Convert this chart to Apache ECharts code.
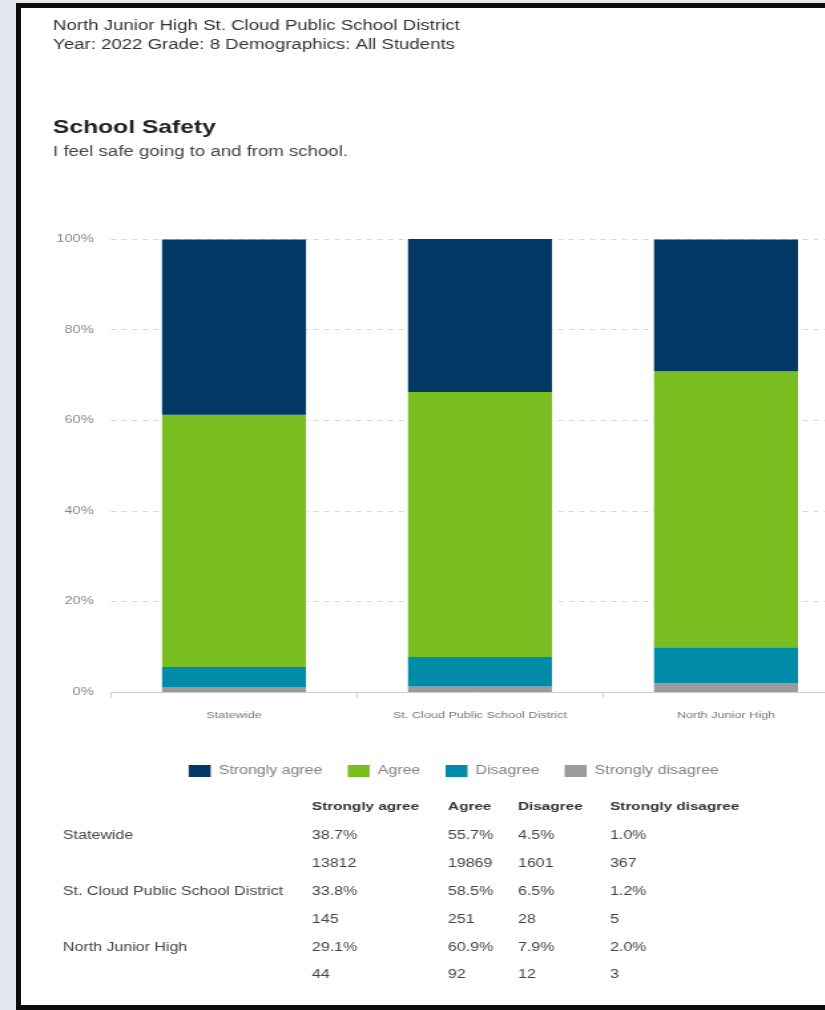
<!DOCTYPE html>
<html>
<head>
<meta charset="utf-8">
<script src="https://cdn.jsdelivr.net/npm/echarts@6/dist/echarts.min.js"></script>
<style>
  html, body { margin: 0; padding: 0; background: #e3e8ee; width: 825px; height: 1010px; overflow: hidden; position: relative; }
  #card { position: absolute; left: 16px; top: 3px; width: 860px; height: 1007px; box-sizing: border-box;
          border: 5px solid #0d0d0d; background: #fff; }
  /* the reference image is horizontally stretched; reproduce that stretch */
  #chart { position: absolute; left: 0; top: 0; width: 700px; height: 1010px;
           transform: scaleX(1.33); transform-origin: 0 0; }
</style>
</head>
<body>
<div id="card"></div>
<div id="chart"></div>
<script>
// ---- data ----
const headerLines = ["North Junior High St. Cloud Public School District", "Year: 2022 Grade: 8 Demographics: All Students"];
const chartTitle = "School Safety";
const chartSubtitle = "I feel safe going to and from school.";
const categories = ["Statewide", "St. Cloud Public School District", "North Junior High"];
const responses = ["Strongly agree", "Agree", "Disagree", "Strongly disagree"];
const stronglyAgree = [38.7, 33.8, 29.1];
const agree = [55.7, 58.5, 60.9];
const disagree = [4.5, 6.5, 7.9];
const stronglyDisagree = [1.0, 1.2, 2.0];
const countsStronglyAgree = [13812, 145, 44];
const countsAgree = [19869, 251, 92];
const countsDisagree = [1601, 28, 12];
const countsStronglyDisagree = [367, 5, 3];

const colors = {
  "Strongly agree": "#023864",
  "Agree": "#78be20",
  "Disagree": "#008ba8",
  "Strongly disagree": "#9a9b9d"
};

const S = 1.33; // horizontal stretch of the page
const pctBy = [stronglyAgree, agree, disagree, stronglyDisagree];
const cntBy = [countsStronglyAgree, countsAgree, countsDisagree, countsStronglyDisagree];

// stacking bottom -> top
const stackOrder = [3, 2, 1, 0];
const series = stackOrder.map(i => ({
  name: responses[i],
  type: 'bar',
  stack: 'total',
  data: pctBy[i],
  barWidth: 144 / S,
  itemStyle: { color: colors[responses[i]] },
  emphasis: { disabled: true }
}));

const FONT = "'Liberation Sans', Arial, sans-serif";
const graphics = [];
headerLines.forEach((t, k) => graphics.push({
  type: 'text', left: 53 / S, top: 19 + k * 19,
  style: { text: t, font: '14px ' + FONT, fill: '#333' }
}));
graphics.push({ type: 'text', left: 53 / S, top: 118, style: { text: chartTitle, font: 'bold 18.5px ' + FONT, fill: '#222' } });
graphics.push({ type: 'text', left: 53 / S, top: 145, style: { text: chartSubtitle, font: '14px ' + FONT, fill: '#444' } });

// table
const colX = [312, 448, 518, 610].map(v => v / S);
const headerY = 801;
const firstRowY = 830;
const rowH = 27.8;
responses.forEach((r, j) => graphics.push({
  type: 'text', left: colX[j], top: headerY,
  style: { text: r, font: 'bold 11.5px ' + FONT, fill: '#333' }
}));
categories.forEach((c, i) => {
  const y1 = firstRowY + rowH * (2 * i);
  const y2 = y1 + rowH;
  graphics.push({ type: 'text', left: 63 / S, top: y1, style: { text: c, font: '12px ' + FONT, fill: '#444' } });
  responses.forEach((r, j) => {
    graphics.push({ type: 'text', left: colX[j], top: y1, style: { text: pctBy[j][i].toFixed(1) + '%', font: '12px ' + FONT, fill: '#444' } });
    graphics.push({ type: 'text', left: colX[j], top: y2, style: { text: String(cntBy[j][i]), font: '12px ' + FONT, fill: '#444' } });
  });
});

const chart = echarts.init(document.getElementById('chart'), null, { renderer: 'canvas' });
chart.setOption({
  animation: false,
  backgroundColor: 'transparent',
  grid: { left: 111 / S, top: 239, width: 738 / S, height: 453, containLabel: false },
  legend: {
    data: responses,
    left: 182 / S, top: 760,
    itemWidth: 22 / S, itemHeight: 12, itemGap: 19, padding: 5,
    icon: 'rect',
    textStyle: { fontFamily: FONT, fontSize: 12, color: '#808080', padding: [0, 0, 0, 1] }
  },
  xAxis: {
    type: 'category',
    data: categories,
    axisLine: { lineStyle: { color: '#cfcfcf' } },
    axisTick: { show: true, length: 6, lineStyle: { color: '#cfcfcf' } },
    axisLabel: { fontFamily: FONT, fontSize: 9.5, color: '#777', margin: 18 }
  },
  yAxis: {
    type: 'value', min: 0, max: 100, interval: 20,
    axisLine: { show: false }, axisTick: { show: false },
    axisLabel: { formatter: '{value}%', fontFamily: FONT, fontSize: 11, color: '#888', margin: 13 },
    splitLine: { lineStyle: { color: '#d8d8d8', type: [4, 4] } }
  },
  series: series,
  graphic: graphics
});
</script>
</body>
</html>
